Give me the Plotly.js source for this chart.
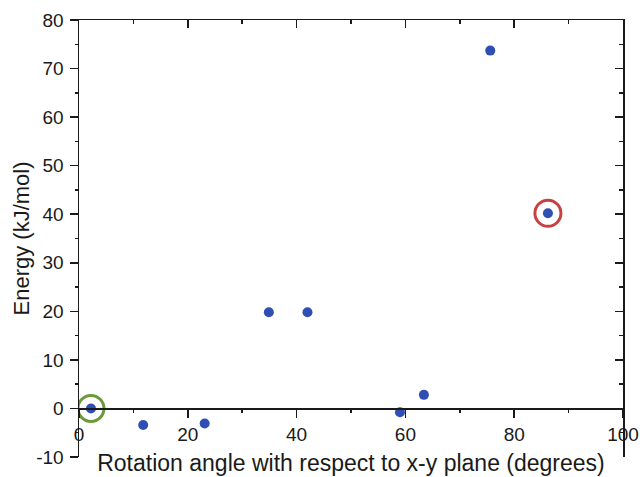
<!DOCTYPE html>
<html>
<head>
<meta charset="utf-8">
<script src="https://cdn.plot.ly/plotly-3.0.1.min.js"></script>
<style>html,body{margin:0;padding:0;background:#fff;}#chart{width:640px;height:477px;}</style>
</head>
<body>
<div id="chart"></div>
<script>
// Data
const angles = [2.2, 11.8, 23.1, 34.9, 42.0, 59.0, 63.4, 75.6, 86.2];
const energies = [0.0, -3.4, -3.1, 19.8, 19.8, -0.8, 2.8, 73.7, 40.2];
// highlighted points
const greenAngle = [2.2];
const greenEnergy = [0.0];
const redAngle = [86.2];
const redEnergy = [40.2];

const yTickVals = [-10, 0, 10, 20, 30, 40, 50, 60, 70, 80];
const yTickText = ['-10', '0', '10', '20', '30', '40', '50', '60', '70', '80'];

const xTitle = 'Rotation angle with respect to x-y plane (degrees)';
const yTitle = 'Energy (kJ/mol)';

const font = 'Arial, "Liberation Sans", sans-serif';
const axisColor = '#1a1a1a';

const traces = [
  {
    x: angles, y: energies, type: 'scatter', mode: 'markers',
    marker: {color: '#2f4fb3', size: 10},
    xaxis: 'x', yaxis: 'y', showlegend: false, hoverinfo: 'x+y'
  },
  {
    x: greenAngle, y: greenEnergy, type: 'scatter', mode: 'markers',
    marker: {symbol: 'circle-open', color: '#6b9a3a', size: 26, line: {width: 3, color: '#6b9a3a'}},
    xaxis: 'x', yaxis: 'y', showlegend: false
  },
  {
    x: redAngle, y: redEnergy, type: 'scatter', mode: 'markers',
    marker: {symbol: 'circle-open', color: '#c8403f', size: 26, line: {width: 3, color: '#c8403f'}},
    xaxis: 'x', yaxis: 'y', showlegend: false
  }
];

const layout = {
  width: 640, height: 477,
  margin: {l: 79, r: 17, t: 20, b: 20},
  paper_bgcolor: '#fff', plot_bgcolor: '#fff',
  font: {family: font, color: '#1a1a1a'},
  xaxis: {
    range: [0, 100], anchor: 'free', position: (0 - (-10)) / 90,
    showgrid: false, zeroline: false,
    showline: true, linecolor: axisColor, linewidth: 1.5,
    ticks: 'outside', ticklen: 8, tickwidth: 1.5, tickcolor: axisColor,
    dtick: 20, tick0: 0,
    minor: {dtick: 10, ticks: 'outside', ticklen: 3, tickwidth: 1.5, tickcolor: axisColor, showgrid: false},
    tickfont: {size: 19, family: font, color: '#1a1a1a'},
    title: {text: xTitle, font: {size: 23, family: font, color: '#1a1a1a'}, standoff: 11}
  },
  xaxis2: {
    range: [0, 100], overlaying: 'x', side: 'top', anchor: 'y',
    showgrid: false, zeroline: false,
    showline: true, linecolor: axisColor, linewidth: 1.5,
    ticks: 'inside', ticklen: 8, tickwidth: 1.5, tickcolor: axisColor,
    dtick: 20, tick0: 0, showticklabels: false,
    minor: {dtick: 10, ticks: 'inside', ticklen: 4, tickwidth: 1.5, tickcolor: axisColor, showgrid: false}
  },
  yaxis: {
    range: [-10, 80],
    showgrid: false, zeroline: false,
    showline: true, linecolor: axisColor, linewidth: 1.5,
    ticks: 'outside', ticklen: 8, tickwidth: 1.5, tickcolor: axisColor,
    tickmode: 'array', tickvals: yTickVals, ticktext: yTickText,
    minor: {dtick: 5, tick0: 0, ticks: 'outside', ticklen: 3, tickwidth: 1.5, tickcolor: axisColor, showgrid: false},
    tickfont: {size: 19, family: font, color: '#1a1a1a'},
    ticklabelstandoff: 2,
    title: {text: yTitle, font: {size: 22, family: font, color: '#1a1a1a'}, standoff: 0}
  },
  yaxis2: {
    range: [-10, 80], overlaying: 'y', side: 'right', anchor: 'x',
    showgrid: false, zeroline: false,
    showline: true, linecolor: axisColor, linewidth: 1.5,
    ticks: 'inside', ticklen: 8, tickwidth: 1.5, tickcolor: axisColor,
    dtick: 10, tick0: 0, showticklabels: false,
    minor: {dtick: 5, ticks: 'inside', ticklen: 4, tickwidth: 1.5, tickcolor: axisColor, showgrid: false}
  }
};

// dummy invisible trace to activate secondary axes
traces.push({x: [null], y: [null], xaxis: 'x2', yaxis: 'y2', type: 'scatter', mode: 'markers', showlegend: false, hoverinfo: 'skip'});

Plotly.newPlot('chart', traces, layout, {displayModeBar: false, staticPlot: true});
</script>
</body>
</html>
